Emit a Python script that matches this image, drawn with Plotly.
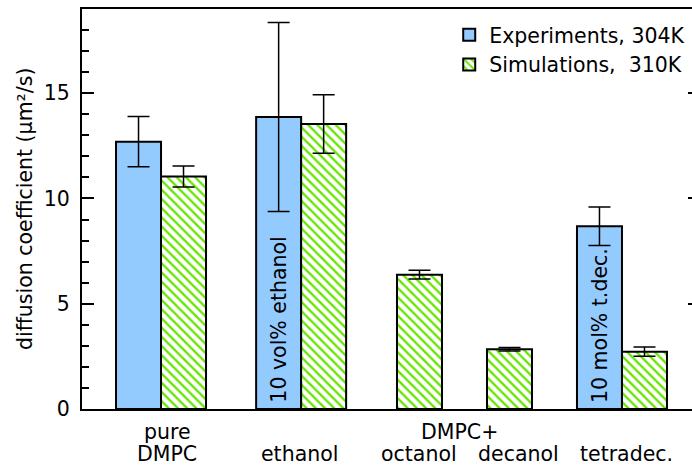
import plotly.graph_objects as go

# ---- data ----
groups = ["pure DMPC", "ethanol", "octanol", "decanol", "tetradec."]
exp_vals = [12.7, 13.87, None, None, 8.68]
exp_err = [1.19, 4.49, None, None, 0.91]
sim_vals = [11.04, 13.54, 6.38, 2.84, 2.72]
sim_err = [0.5, 1.39, 0.21, 0.08, 0.22]

# group boundary positions on a numeric axis (bar width = 1)
group_pos = [1.756, 4.87, 7.0, 9.0, 12.0]

FONT = "DejaVu Sans"
FS = 20.5

fig = go.Figure()
fig.add_trace(go.Bar(
    x=group_pos, y=exp_vals, width=1, offset=-1,
    name="Experiments, 304K",
    marker=dict(color="#94CBFF", opacity=1, line=dict(color="black", width=2)),
    error_y=dict(type="data", array=exp_err, color="black", thickness=1.5, width=11),
))
fig.add_trace(go.Bar(
    x=group_pos, y=sim_vals, width=1, offset=0,
    name="Simulations,  310K",
    marker=dict(color="white", opacity=1, line=dict(color="black", width=2),
                pattern=dict(shape="\\", fgcolor="#66E600", bgcolor="white",
                             fgopacity=1, fillmode="replace",
                             size=6.5, solidity=0.36)),
    error_y=dict(type="data", array=sim_err, color="black", thickness=1.5, width=11),
))
# invisible trace to drive right-side tick stubs
fig.add_trace(go.Scatter(x=[0], y=[0], yaxis="y2", mode="markers",
                         marker=dict(opacity=0), showlegend=False, hoverinfo="skip"))

annotations = []
# in-bar rotated labels
for gi, txt in [(1, "10 vol% ethanol"), (4, "10 mol% t.dec.")]:
    annotations.append(dict(x=group_pos[gi] - 0.5, y=0, xref="x", yref="y",
                            text=txt, textangle=-90, showarrow=False,
                            xanchor="center", yanchor="bottom", yshift=4,
                            font=dict(family=FONT, size=FS, color="black")))
# category labels
cat_labels = [(1.89, "pure", -23), (1.89, "DMPC", -45), (4.84, "ethanol", -45),
              (8.4, "DMPC+", -23), (7.49, "octanol", -45), (9.69, "decanol", -45),
              (12.11, "tetradec.", -45)]
for x, t, ys in cat_labels:
    annotations.append(dict(x=x, y=0, xref="x", yref="y", text=t, showarrow=False,
                            xanchor="center", yanchor="middle", yshift=ys,
                            font=dict(family=FONT, size=FS, color="black")))
# y-axis title
annotations.append(dict(x=-0.0934, y=0.5, xref="paper", yref="paper",
                        text="diffusion coefficient (μm²/s)", textangle=-90,
                        showarrow=False, xanchor="center", yanchor="middle",
                        font=dict(family=FONT, size=FS, color="black")))

fig.update_layout(
    width=692, height=467,
    margin=dict(l=82, r=0, t=9, b=58),
    paper_bgcolor="white", plot_bgcolor="white",
    barmode="overlay",
    font=dict(family=FONT, size=FS, color="black"),
    xaxis=dict(range=[0, 13.556], showline=True, linecolor="black", linewidth=2,
               mirror=True, showticklabels=False, ticks="", showgrid=False,
               zeroline=False),
    yaxis=dict(range=[0, 19], showline=True, linecolor="black", linewidth=2,
               ticks="inside", ticklen=12, tickwidth=1.5, tickcolor="black",
               dtick=5, tick0=0, showgrid=False, zeroline=False,
               ticklabelstandoff=6,
               minor=dict(ticks="inside", ticklen=7, tickwidth=1.5,
                          tickcolor="black", dtick=1, showgrid=False),
               tickfont=dict(family=FONT, size=FS, color="black")),
    yaxis2=dict(range=[0, 19], overlaying="y", side="right", showline=False,
                ticks="inside", ticklen=4, tickwidth=1.5, tickcolor="black",
                dtick=5, tick0=0, showticklabels=False, showgrid=False,
                zeroline=False),
    legend=dict(x=0.602, xanchor="left", y=0.985, yanchor="top",
                bgcolor="rgba(0,0,0,0)", font=dict(family=FONT, size=FS),
                traceorder="normal"),
    annotations=annotations,
    showlegend=True,
)

fig.write_html("out.html")
